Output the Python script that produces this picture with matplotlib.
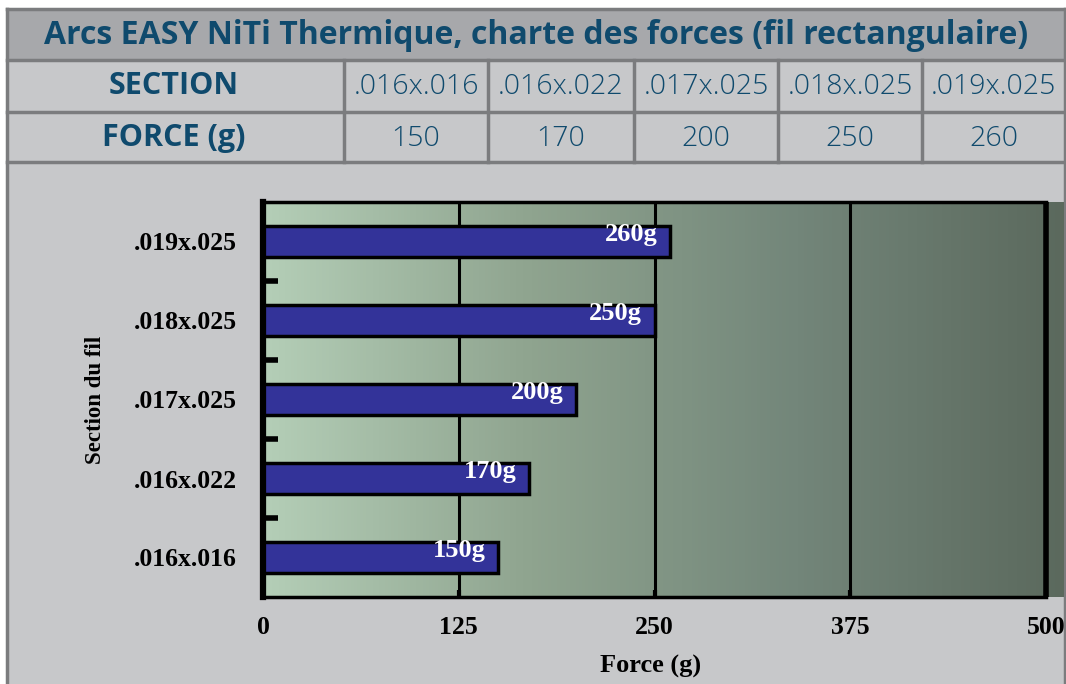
import numpy as np
import matplotlib.pyplot as plt
from matplotlib.patches import Rectangle
from matplotlib.colors import LinearSegmentedColormap

W, H = 1066, 684

sections = ['.016x.016', '.016x.022', '.017x.025', '.018x.025', '.019x.025']
forces = [150, 170, 200, 250, 260]
xticks = [0, 125, 250, 375, 500]
title = "Arcs EASY NiTi Thermique, charte des forces (fil rectangulaire)"

blue_txt = '#0f4a6d'
line_gray = '#7b7c7e'

fig = plt.figure(figsize=(W / 100, H / 100), dpi=100)
fig.patch.set_facecolor('white')


def fx(px):
    return px / W


def fy(py):
    return 1 - py / H


def box(x0, y0, x1, y1, color):
    fig.patches.append(Rectangle((fx(x0), fy(y1)), fx(x1) - fx(x0), fy(y0) - fy(y1),
                                 transform=fig.transFigure, facecolor=color,
                                 edgecolor='none', zorder=-2))


def hline(y, x0, x1, lw=2.5):
    fig.add_artist(plt.Line2D([fx(x0), fx(x1)], [fy(y), fy(y)], transform=fig.transFigure,
                              color=line_gray, lw=lw, zorder=-1))


def vline(x, y0, y1, lw=2.5):
    fig.add_artist(plt.Line2D([fx(x), fx(x)], [fy(y0), fy(y1)], transform=fig.transFigure,
                              color=line_gray, lw=lw, zorder=-1))


# table background
box(7, 9, 1065, 60, '#a7a8ab')
box(7, 60, 1065, 684, '#c7c8ca')

hline(9, 7, 1065)
hline(60, 7, 1065)
hline(112, 7, 1065)
hline(162, 7, 1065)
vline(7, 9, 684)
vline(1065, 9, 684)
col_edges = [344, 488, 634, 778, 922, 1065]
for x in col_edges[:-1]:
    vline(x, 60, 162)

fig.text(fx(536), fy(35), title, ha='center', va='center', fontsize=23,
         fontweight='bold', color=blue_txt, family='Open Sans')
fig.text(fx(174), fy(86), 'SECTION', ha='center', va='center', fontsize=22,
         fontweight='bold', color=blue_txt, family='Open Sans')
fig.text(fx(174), fy(138), 'FORCE (g)', ha='center', va='center', fontsize=22,
         fontweight='bold', color=blue_txt, family='Open Sans')
for i in range(5):
    cx = (col_edges[i] + col_edges[i + 1]) / 2
    fig.text(fx(cx), fy(87), sections[i], ha='center', va='center', fontsize=20.5,
             color=blue_txt, family='Open Sans', fontweight='light')
    fig.text(fx(cx), fy(139), str(forces[i]), ha='center', va='center', fontsize=20.5,
             color=blue_txt, family='Open Sans', fontweight='light')

# chart
ax_l, ax_r, ax_t, ax_b = 263, 1064, 202, 597
ax = fig.add_axes([fx(ax_l), fy(ax_b), fx(ax_r) - fx(ax_l), fy(ax_t) - fy(ax_b)])
ax.set_zorder(1)
xmax = 500 * (ax_r - ax_l) / (1046 - ax_l)
ax.set_xlim(0, xmax)
ax.set_ylim(-0.5, 4.5)

cmap = LinearSegmentedColormap.from_list('bg', ['#b4ceb7', '#8fa48f', '#73867a', '#5b695d'])
grad = np.linspace(0, 1, 256).reshape(1, -1)
ax.imshow(grad, extent=[0, xmax, -0.5, 4.5], aspect='auto', cmap=cmap, zorder=0)

for x in xticks[1:-1]:
    ax.axvline(x, color='black', lw=2.2, zorder=1)
ax.axvline(500, color='black', lw=4, zorder=3)

y = np.arange(len(sections))
ax.barh(y, forces, height=0.38, color='#333399', edgecolor='black', linewidth=2.5, zorder=2)
for yi, f in zip(y, forces):
    ax.annotate(f'{f}g', (f, yi), xytext=(-9, 5), textcoords='offset points',
                ha='right', va='center', color='white', fontsize=19, fontweight='bold',
                family='Liberation Serif', zorder=4)

for side in ['top', 'bottom']:
    ax.spines[side].set_bounds(0, 500)
    ax.spines[side].set_linewidth(2.5)
ax.spines['right'].set_visible(False)
ax.spines['left'].set_linewidth(4.5)

ax.set_yticks(y)
ax.set_yticklabels(sections, family='Liberation Serif', fontweight='bold', fontsize=18.5)
ax.set_yticks([0.5, 1.5, 2.5, 3.5], minor=True)
ax.tick_params(axis='y', which='major', length=0, pad=19)
ax.tick_params(axis='y', which='minor', length=11, width=4, direction='in')
ax.set_xticks(xticks)
ax.set_xticklabels([str(t) for t in xticks], family='Liberation Serif', fontweight='bold',
                   fontsize=18.5)
ax.tick_params(axis='x', length=5, width=3, direction='in', pad=14)

ax.set_xlabel('Force (g)', family='Liberation Serif', fontweight='bold', fontsize=19)
ax.xaxis.set_label_coords((651 - ax_l) / (ax_r - ax_l), -(655 - ax_b) / (ax_b - ax_t))
ax.set_ylabel('Section du fil', family='Liberation Serif', fontweight='bold', fontsize=16.5)
ax.yaxis.set_label_coords(-(ax_l - 106) / (ax_r - ax_l), 0.5)

fig.savefig('out.png', dpi=100)
